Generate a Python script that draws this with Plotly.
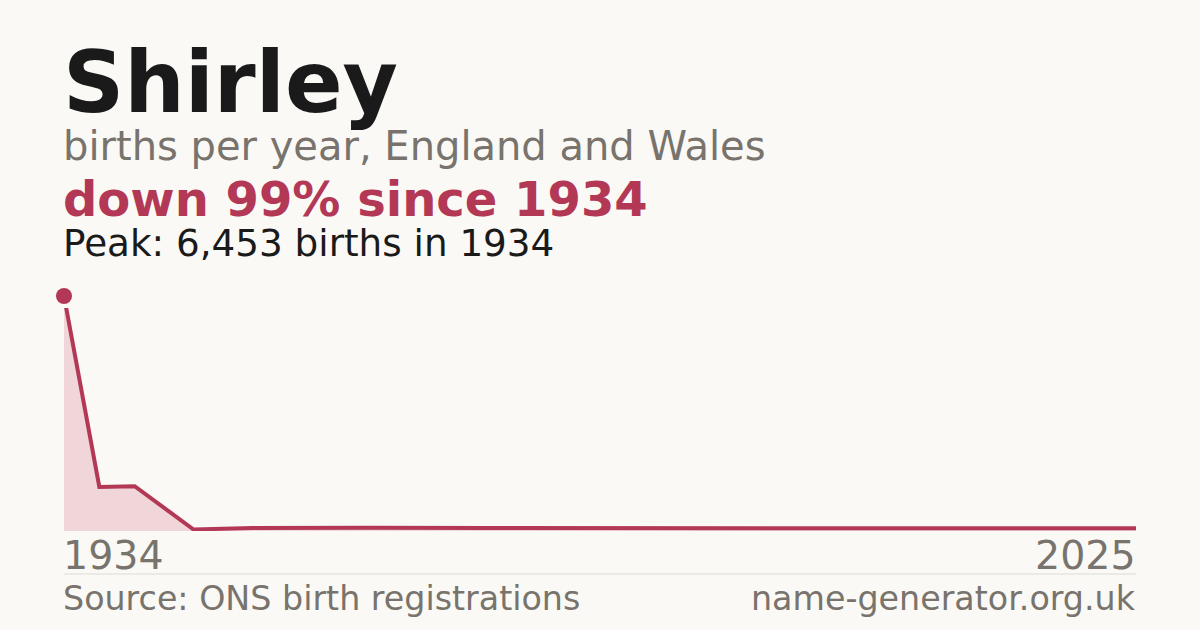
import plotly.graph_objects as go

# ----------------------
# Data
# ----------------------
years = [1934, 1937, 1940, 1945, 1950, 1955, 1960, 1970, 1980, 1990, 2000, 2010, 2020, 2025]
births = [6453, 1210, 1230, 40, 85, 95, 90, 80, 80, 75, 75, 75, 75, 75]

name = "Shirley"
subtitle = "births per year, England and Wales"
headline = "down 99% since 1934"
peak_text = "Peak: 6,453 births in 1934"
first_label = "1934"
last_label = "2025"
source_text = "Source: ONS birth registrations"
site_text = "name-generator.org.uk"

# ----------------------
# Style
# ----------------------
W, H = 1200, 630
BG = "#FAF9F5"
INK = "#1A1A1A"
GREY = "#78736C"
RED = "#B33856"
FILL = "rgba(206,90,120,0.22)"
FONT = "DejaVu Sans"

left_px, right_px = 64, 1136
base_px, top_px, peak_px, mk_top_px = 531, 308, 296, 286

# line axis is clipped a little below the peak; marker axis is taller
y_top = max(births) * (base_px - top_px) / (base_px - peak_px)
y2_top = max(births) * (base_px - mk_top_px) / (base_px - peak_px)

fig = go.Figure()

# area + line (clipped)
fig.add_trace(go.Scatter(
    x=years, y=births, mode="lines",
    line=dict(color=RED, width=4),
    fill="tozeroy", fillcolor=FILL,
    hoverinfo="skip", showlegend=False, cliponaxis=True,
))

# peak marker on a second, taller (transparent) subplot
pk = births.index(max(births))
fig.add_trace(go.Scatter(
    x=[years[pk]], y=[births[pk]], mode="markers", yaxis="y2",
    marker=dict(color=RED, size=16, line=dict(width=0)),
    hoverinfo="skip", showlegend=False, cliponaxis=False,
))


def py(px):
    return 1 - px / H


def note(text, x, xanchor, ypx, size, color, bold=False, xshift=0):
    fig.add_annotation(
        text=f"<b>{text}</b>" if bold else text,
        x=x, xref="paper", xanchor=xanchor, xshift=xshift,
        y=py(ypx), yref="paper", yanchor="middle",
        showarrow=False, borderpad=0,
        font=dict(family=FONT, size=size, color=color),
    )


xl, xr = left_px / W, right_px / W
note(name, xl, "left", 112 - 0.346 * 85, 85, INK, bold=True, xshift=-2)
note(subtitle, xl, "left", 160 - 0.346 * 40, 40, GREY, xshift=-2)
note(headline, xl, "left", 216 - 0.346 * 48, 48, RED, bold=True, xshift=-2)
note(peak_text, xl, "left", 256 - 0.346 * 37.3, 37.3, INK, xshift=-2)
note(first_label, xl, "left", 569 - 0.346 * 39.5, 39.5, GREY, xshift=-2)
note(last_label, xr, "right", 569 - 0.346 * 39.5, 39.5, GREY, xshift=1)
note(source_text, xl, "left", 610 - 0.346 * 33.3, 33.3, GREY, xshift=-2)
note(site_text, xr, "right", 610 - 0.346 * 33.3, 33.3, GREY, xshift=1)

# separator above footer
fig.add_shape(type="line", xref="paper", yref="paper",
              x0=xl, x1=xr, y0=py(574), y1=py(574),
              line=dict(color="#DEDBD4", width=1))

fig.update_layout(
    width=W, height=H,
    margin=dict(l=0, r=0, t=0, b=0),
    paper_bgcolor=BG, plot_bgcolor="rgba(0,0,0,0)",
    showlegend=False,
    xaxis=dict(domain=[xl, xr], range=[years[0], 2025], visible=False, fixedrange=True),
    yaxis=dict(domain=[py(base_px), py(top_px)], range=[0, y_top], visible=False, fixedrange=True),
    yaxis2=dict(domain=[py(base_px), py(mk_top_px)], range=[0, y2_top], visible=False,
                fixedrange=True, anchor="x"),
)

# drop the browser's default page margin so the figure fills the window
fig.write_html(
    "out.html",
    config={"displayModeBar": False},
    post_script="document.body.style.margin='0';document.body.style.overflow='hidden';"
                "document.body.style.background='" + BG + "';",
)
